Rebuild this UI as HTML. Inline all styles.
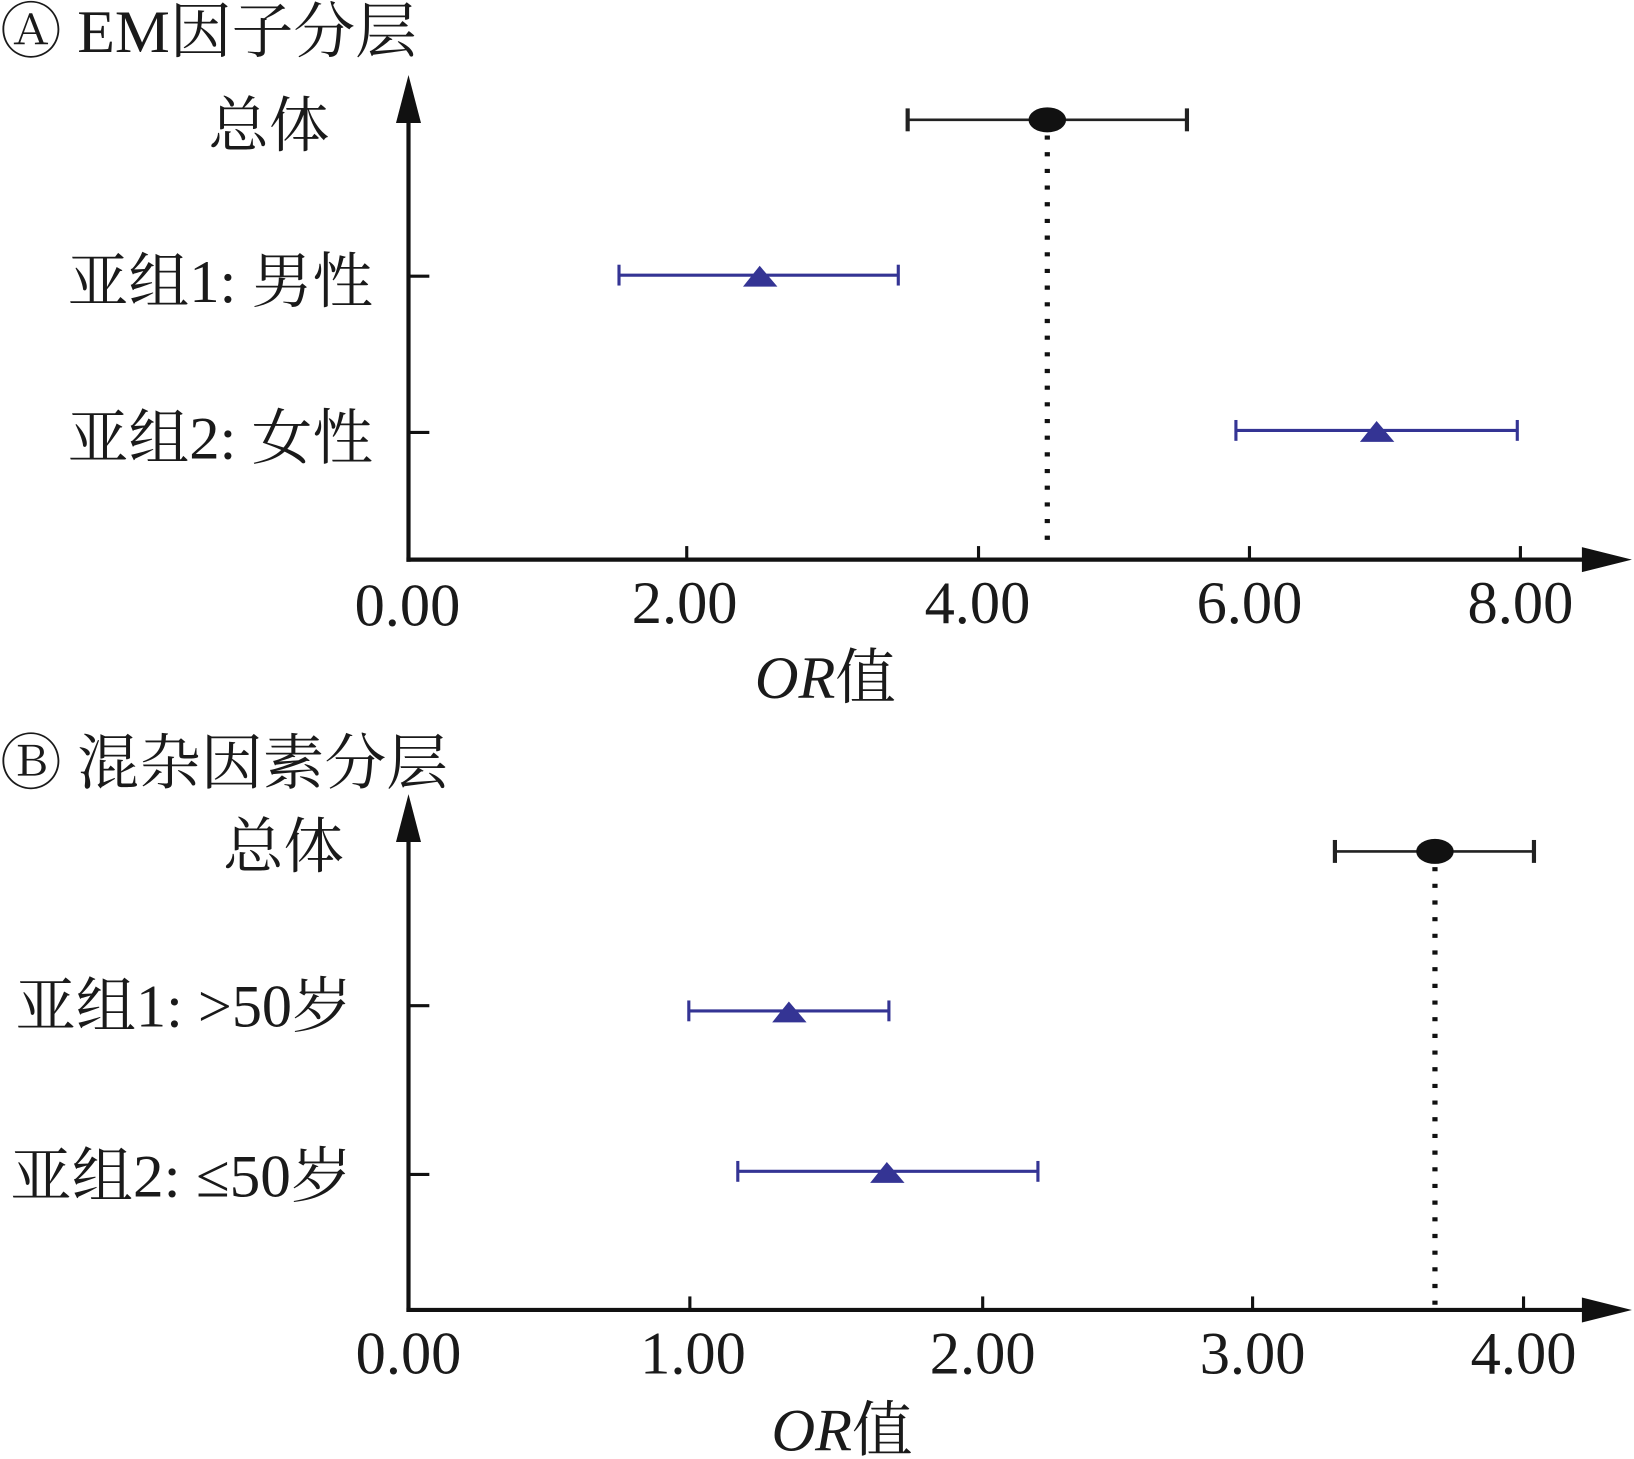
<!DOCTYPE html>
<html><head><meta charset="utf-8"><style>
html,body{margin:0;padding:0;background:#fff;}
svg{display:block;}
text{font-family:"Liberation Serif","Noto Serif CJK SC",serif;fill:#1a1a1a;}
</style></head><body>
<svg width="1634" height="1459" viewBox="0 0 1568 1400" preserveAspectRatio="none" xmlns="http://www.w3.org/2000/svg">
<!-- Panel A -->
<text x="0" y="50" font-size="58" textLength="400" lengthAdjust="spacingAndGlyphs">Ⓐ EM因子分层</text>
<line x1="392" y1="105" x2="392" y2="539" stroke="#111" stroke-width="4"/>
<polygon points="392,72 380,118 404,118" fill="#111"/>
<line x1="390" y1="537" x2="1530" y2="537" stroke="#111" stroke-width="4"/>
<polygon points="1566,537 1518,525 1518,549" fill="#111"/>
<g stroke="#111" stroke-width="3">
<line x1="659" y1="537" x2="659" y2="524"/><line x1="939" y1="537" x2="939" y2="524"/>
<line x1="1199" y1="537" x2="1199" y2="524"/><line x1="1459" y1="537" x2="1459" y2="524"/>
<line x1="392" y1="265" x2="412" y2="265"/><line x1="392" y1="415" x2="412" y2="415"/>
</g>
<g font-size="58" text-anchor="middle">
<text x="391" y="600">0.00</text><text x="657" y="598">2.00</text><text x="938" y="598">4.00</text><text x="1199" y="598">6.00</text><text x="1459" y="598">8.00</text>
</g>
<text x="792" y="670" font-size="58" text-anchor="middle"><tspan font-style="italic">OR</tspan>值</text>
<g font-size="58">
<text x="200" y="140" textLength="116" lengthAdjust="spacingAndGlyphs">总体</text>
<text x="65" y="290" textLength="293" lengthAdjust="spacingAndGlyphs">亚组1: 男性</text>
<text x="65" y="440" textLength="293" lengthAdjust="spacingAndGlyphs">亚组2: 女性</text>
</g>
<line x1="1005" y1="130" x2="1005" y2="530" stroke="#111" stroke-width="5" stroke-dasharray="4,12"/>
<g stroke="#222" stroke-width="2.5"><line x1="871" y1="115" x2="1139" y2="115"/><line x1="871" y1="104" x2="871" y2="126" stroke-width="4"/><line x1="1139" y1="104" x2="1139" y2="126" stroke-width="4"/></g>
<ellipse cx="1005" cy="115" rx="18" ry="12" fill="#111"/>
<g stroke="#343494" stroke-width="3">
<line x1="594" y1="264" x2="862" y2="264"/><line x1="594" y1="254" x2="594" y2="274"/><line x1="862" y1="254" x2="862" y2="274"/>
<line x1="1186" y1="413" x2="1456" y2="413"/><line x1="1186" y1="403" x2="1186" y2="423"/><line x1="1456" y1="403" x2="1456" y2="423"/>
</g>
<polygon points="729,255 713,275 746,275" fill="#343494"/>
<polygon points="1321,404 1305,424 1338,424" fill="#343494"/>
<!-- Panel B -->
<text x="0" y="752" font-size="58" textLength="430" lengthAdjust="spacingAndGlyphs">Ⓑ 混杂因素分层</text>
<line x1="392" y1="795" x2="392" y2="1259" stroke="#111" stroke-width="4"/>
<polygon points="392,762 380,808 404,808" fill="#111"/>
<line x1="390" y1="1257" x2="1530" y2="1257" stroke="#111" stroke-width="4"/>
<polygon points="1566,1257 1518,1245 1518,1269" fill="#111"/>
<g stroke="#111" stroke-width="3">
<line x1="662" y1="1257" x2="662" y2="1244"/><line x1="943" y1="1257" x2="943" y2="1244"/>
<line x1="1202" y1="1257" x2="1202" y2="1244"/><line x1="1462" y1="1257" x2="1462" y2="1244"/>
<line x1="392" y1="965" x2="412" y2="965"/><line x1="392" y1="1127" x2="412" y2="1127"/>
</g>
<g font-size="58" text-anchor="middle">
<text x="392" y="1318">0.00</text><text x="665" y="1318">1.00</text><text x="943" y="1318">2.00</text><text x="1202" y="1318">3.00</text><text x="1462" y="1318">4.00</text>
</g>
<text x="808" y="1392" font-size="58" text-anchor="middle"><tspan font-style="italic">OR</tspan>值</text>
<g font-size="58">
<text x="214" y="832" textLength="116" lengthAdjust="spacingAndGlyphs">总体</text>
<text x="15" y="985" textLength="323" lengthAdjust="spacingAndGlyphs">亚组1: &gt;50岁</text>
<text x="10" y="1148" textLength="328" lengthAdjust="spacingAndGlyphs">亚组2: ≤50岁</text>
</g>
<line x1="1377" y1="832" x2="1377" y2="1255" stroke="#111" stroke-width="5" stroke-dasharray="4,12"/>
<g stroke="#222" stroke-width="2.5"><line x1="1281" y1="817" x2="1472" y2="817"/><line x1="1281" y1="806" x2="1281" y2="828" stroke-width="4"/><line x1="1472" y1="806" x2="1472" y2="828" stroke-width="4"/></g>
<ellipse cx="1377" cy="817" rx="18" ry="12" fill="#111"/>
<g stroke="#343494" stroke-width="3">
<line x1="661" y1="970" x2="853" y2="970"/><line x1="661" y1="960" x2="661" y2="980"/><line x1="853" y1="960" x2="853" y2="980"/>
<line x1="708" y1="1124" x2="996" y2="1124"/><line x1="708" y1="1114" x2="708" y2="1134"/><line x1="996" y1="1114" x2="996" y2="1134"/>
</g>
<polygon points="757,961 741,981 774,981" fill="#343494"/>
<polygon points="851,1115 835,1135 868,1135" fill="#343494"/>
</svg>
</body></html>
